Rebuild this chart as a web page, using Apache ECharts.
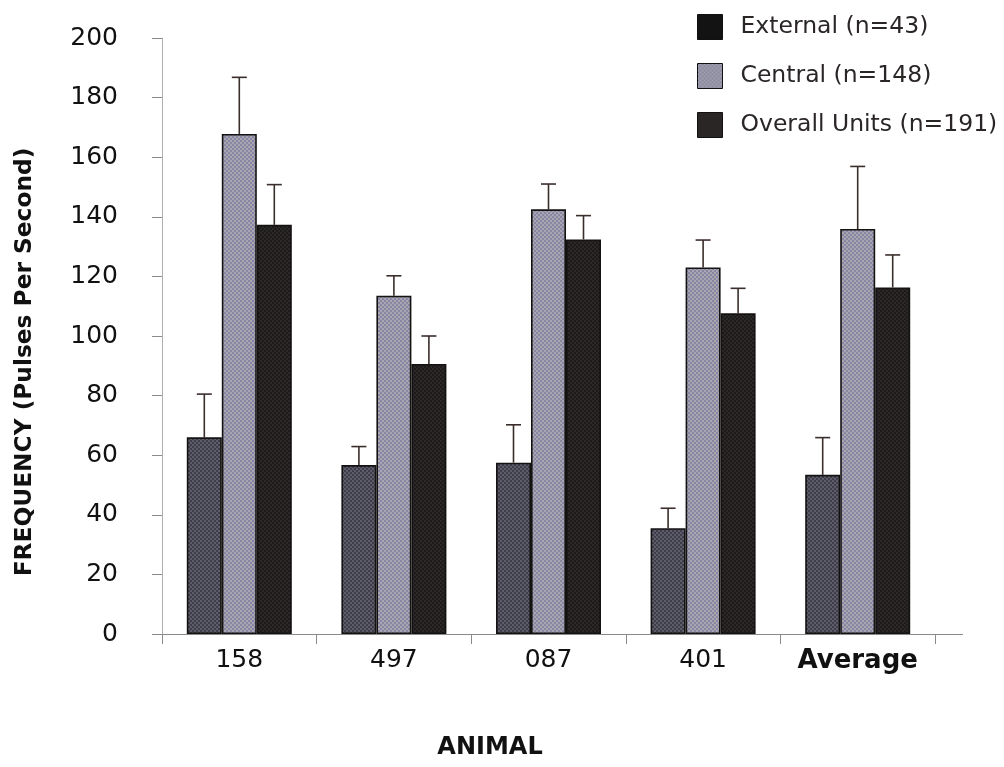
<!DOCTYPE html>
<html>
<head>
<meta charset="utf-8">
<script src="https://cdn.jsdelivr.net/npm/echarts@6/dist/echarts.min.js"></script>
<style>html,body{margin:0;padding:0;background:#fff;}#c{width:1004px;height:767px;}</style>
</head>
<body>
<div id="c"></div>
<script>
var categories = ['158', '497', '087', '401', 'Average'];
var seriesNames = ['External (n=43)', 'Central (n=148)', 'Overall Units (n=191)'];
var externalValues = [66, 56.7, 57.5, 35.5, 53.4];
var externalErrors = [14.5, 6.2, 12.7, 6.7, 12.5];
var centralValues = [167.8, 113.5, 142.5, 123, 135.9];
var centralErrors = [19, 6.7, 8.5, 9.2, 21];
var overallValues = [137.3, 90.6, 132.4, 107.6, 116.3];
var overallErrors = [13.5, 9.4, 8, 8.4, 10.9];
var yTicks = [0, 20, 40, 60, 80, 100, 120, 140, 160, 180, 200];

var FONT = '"DejaVu Sans", "Liberation Sans", Arial, sans-serif';

function pattern(c1, c2) {
  var cv = document.createElement('canvas');
  cv.width = 4; cv.height = 4;
  var ctx = cv.getContext('2d');
  ctx.fillStyle = c1; ctx.fillRect(0, 0, 4, 4);
  ctx.fillStyle = c2;
  ctx.fillRect(0, 0, 2, 2); ctx.fillRect(2, 2, 2, 2);
  return { image: cv, repeat: 'repeat' };
}

var fills = [
  pattern('#3e3e4a', '#5e5c6a'),
  pattern('#a8a6ae', '#8886a4'),
  pattern('#1c1a1a', '#2c2828')
];
var legendColors = ['#131313', pattern('#a4a2aa', '#8684a2'), '#2a2626'];

var values = [externalValues, centralValues, overallValues];
var errors = [externalErrors, centralErrors, overallErrors];
var barW = 35;

var errData = [];
for (var s = 0; s < 3; s++) {
  for (var i = 0; i < categories.length; i++) {
    errData.push([i, s, values[s][i], values[s][i] + errors[s][i]]);
  }
}

var series = [];
for (var s2 = 0; s2 < 3; s2++) {
  series.push({
    name: seriesNames[s2],
    type: 'bar',
    data: values[s2],
    barWidth: barW,
    barGap: '0%',
    itemStyle: { color: fills[s2], borderColor: '#151212', borderWidth: 1.6 },
    z: 2
  });
}
series.push({
  type: 'custom',
  name: 'err',
  data: errData,
  z: 1,
  silent: true,
  renderItem: function (params, api) {
    var ci = api.value(0), si = api.value(1);
    var p0 = api.coord([ci, api.value(2)]);
    var p1 = api.coord([ci, api.value(3)]);
    var x = p0[0] + (si - 1) * barW;
    var st = { stroke: '#3a2e2c', lineWidth: 1.6 };
    return {
      type: 'group',
      children: [
        { type: 'line', shape: { x1: x, y1: p0[1], x2: x, y2: p1[1] }, style: st },
        { type: 'line', shape: { x1: x - 7.5, y1: p1[1], x2: x + 7.5, y2: p1[1] }, style: st }
      ]
    };
  },
  encode: { x: 0, y: 2 }
});

var chart = echarts.init(document.getElementById('c'), null, { renderer: 'canvas' });
chart.setOption({
  backgroundColor: '#ffffff',
  animation: false,
  grid: { left: 162, right: 69, top: 38, bottom: 133 },
  legend: {
    orient: 'vertical',
    left: 692,
    top: 9,
    itemWidth: 25,
    itemHeight: 25,
    itemGap: 23,
    icon: 'rect',
    textStyle: { fontFamily: FONT, fontSize: 23.5, color: '#2a2626', padding: [0, 0, 0, 13] },
    data: seriesNames.map(function (n, k) {
      return { name: n, itemStyle: { color: legendColors[k], borderColor: '#111', borderWidth: 1 } };
    })
  },
  xAxis: {
    type: 'category',
    data: categories,
    axisLine: { show: true, lineStyle: { color: '#8a8a8a', width: 1 } },
    axisTick: { show: true, interval: 0, length: 10, alignWithLabel: false, lineStyle: { color: '#8a8a8a' } },
    axisLabel: {
      interval: 0,
      margin: 14,
      fontFamily: FONT,
      fontSize: 25,
      color: '#111',
      formatter: function (v) { return v === 'Average' ? '{b|' + v + '}' : v; },
      rich: { b: { fontWeight: 'bold', fontSize: 26, fontFamily: FONT, color: '#111' } }
    }
  },
  yAxis: {
    type: 'value',
    min: yTicks[0],
    max: yTicks[yTicks.length - 1],
    interval: 20,
    axisLine: { show: true, lineStyle: { color: '#b0b0b0', width: 1 } },
    axisTick: { show: true, length: 10, lineStyle: { color: '#8a8a8a' } },
    splitLine: { show: false },
    axisLabel: {
      margin: 44,
      fontFamily: FONT,
      fontSize: 25,
      color: '#111'
    }
  },
  graphic: [
    {
      type: 'text',
      x: 25, y: 362,
      rotation: Math.PI / 2,
      style: {
        text: 'FREQUENCY (Pulses Per Second)',
        font: 'bold 23.3px ' + FONT,
        fill: '#111',
        align: 'center',
        verticalAlign: 'middle'
      }
    },
    {
      type: 'text',
      x: 490, y: 748,
      style: {
        text: 'ANIMAL',
        font: 'bold 24px ' + FONT,
        fill: '#111',
        align: 'center',
        verticalAlign: 'middle'
      }
    },
    {
      type: 'line',
      shape: { x1: 935, y1: 634.5, x2: 963, y2: 634.5 },
      style: { stroke: '#8a8a8a', lineWidth: 1 }
    }
  ],
  series: series
});
</script>
</body>
</html>
